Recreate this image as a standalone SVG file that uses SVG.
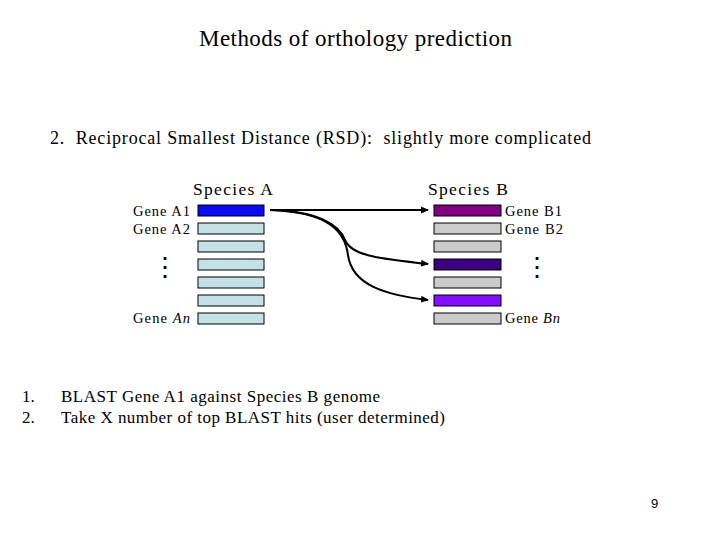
<svg xmlns="http://www.w3.org/2000/svg" width="720" height="540" viewBox="0 0 720 540">
<style>
text{font-family:"Liberation Serif","Times New Roman",serif;fill:#000}
.lab{font-size:14.5px}
.sp{font-size:17.5px}
.dots{font-family:"DejaVu Serif",serif;font-size:26px}
.box{stroke:#000;stroke-width:1}
.a{fill:#c4e2e6}
.g{fill:#cbcbcb}
.con{fill:none;stroke:#000;stroke-width:2;marker-end:url(#ah)}
</style>
<defs>
<marker id="ah" markerWidth="8" markerHeight="8" refX="7" refY="4" orient="auto" markerUnits="userSpaceOnUse">
<path d="M0,0.5 L8,4 L0,7.5 Z" fill="#000"/>
</marker>
</defs>
<rect width="720" height="540" fill="#fff"/>
<text x="199" y="46" font-size="23" textLength="313" lengthAdjust="spacing">Methods of orthology prediction</text>
<text x="50" y="144" font-size="18" textLength="541" lengthAdjust="spacing" xml:space="preserve">2.  Reciprocal Smallest Distance (RSD):  slightly more complicated</text>
<g id="speciesA">
<text class="sp" x="193" y="195" textLength="80" lengthAdjust="spacing">Species A</text>
<rect class="box" x="198" y="205" width="66" height="11" fill="#0a0af0"/>
<rect class="box a" x="198" y="223" width="66" height="11"/>
<rect class="box a" x="198" y="241" width="66" height="11"/>
<rect class="box a" x="198" y="259" width="66" height="11"/>
<rect class="box a" x="198" y="277" width="66" height="11"/>
<rect class="box a" x="198" y="295" width="66" height="11"/>
<rect class="box a" x="198" y="313" width="66" height="11"/>
<text class="lab" x="133" y="216" textLength="57" lengthAdjust="spacing">Gene A1</text>
<text class="lab" x="133" y="234" textLength="57" lengthAdjust="spacing">Gene A2</text>
<text class="dots" x="165" y="276" text-anchor="middle">⋮</text>
<text class="lab" x="133" y="323" textLength="57" lengthAdjust="spacing">Gene <tspan font-style="italic">An</tspan></text>
</g>
<g id="speciesB">
<text class="sp" x="428" y="195" textLength="80" lengthAdjust="spacing">Species B</text>
<rect class="box" x="434" y="205" width="67" height="11" fill="#800080"/>
<rect class="box g" x="434" y="223" width="67" height="11"/>
<rect class="box g" x="434" y="241" width="67" height="11"/>
<rect class="box" x="434" y="259" width="67" height="11" fill="#3a0080"/>
<rect class="box g" x="434" y="277" width="67" height="11"/>
<rect class="box" x="434" y="295" width="67" height="11" fill="#8010ff"/>
<rect class="box g" x="434" y="313" width="67" height="11"/>
<text class="lab" x="505" y="216" textLength="57" lengthAdjust="spacing">Gene B1</text>
<text class="lab" x="505" y="234" textLength="58" lengthAdjust="spacing">Gene B2</text>
<text class="dots" x="537" y="276" text-anchor="middle">⋮</text>
<text class="lab" x="505" y="323" textLength="55" lengthAdjust="spacing">Gene <tspan font-style="italic">Bn</tspan></text>
</g>
<g id="connectors">
<path class="con" d="M270,210 L428,210"/>
<path class="con" d="M270,210 C320,211 340,226 345,240 C352,257 385,259 428,264"/>
<path class="con" d="M270,210 C330,212 345,232 348,255 C352,285 385,295 428,300"/>
</g>
<g id="steps">
<text x="22" y="402" font-size="17">1.</text>
<text x="61" y="402" font-size="17" textLength="319" lengthAdjust="spacing">BLAST Gene A1 against Species B genome</text>
<text x="22" y="423" font-size="17">2.</text>
<text x="61" y="423" font-size="17" textLength="384" lengthAdjust="spacing">Take X number of top BLAST hits (user determined)</text>
</g>
<text x="651" y="508" font-size="13" style="font-family:'Liberation Sans',Arial,sans-serif">9</text>
</svg>
